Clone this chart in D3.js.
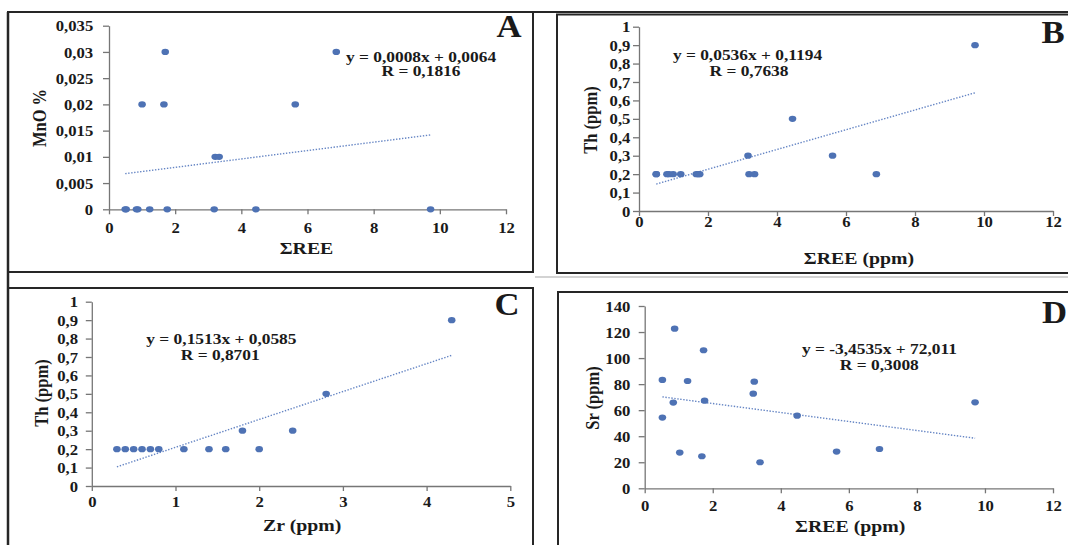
<!DOCTYPE html>
<html>
<head>
<meta charset="utf-8">
<script src="https://cdn.jsdelivr.net/npm/d3@7"></script>
<style>
body { margin: 0; background: #fff; }
</style>
</head>
<body>
<div class="vis"></div>
<script>
// A : MnO % against sum of REE
const reeA = [0.49, 0.52, 0.83, 0.87, 1.23, 1.76, 3.18, 4.44, 9.72, 3.21, 3.33, 1.0, 1.66, 5.63, 1.7, 6.87]
const mnoA = [0, 0, 0, 0, 0, 0, 0, 0, 0, 0.01, 0.01, 0.02, 0.02, 0.02, 0.03, 0.03]
const xTicksA = [0, 2, 4, 6, 8, 10, 12]
const yTicksA = [0, 0.005, 0.01, 0.015, 0.02, 0.025, 0.03, 0.035]
const fitA = [0.0008, 0.0064]
const eqA = ["y = 0,0008x + 0,0064", "R = 0,1816"]

// B : Th against sum of REE
const reeB = [0.5, 0.5, 0.81, 0.87, 0.99, 1.21, 1.66, 1.72, 1.76, 3.19, 3.35, 6.88, 3.16, 5.61, 4.45, 9.74]
const thB = [0.2, 0.2, 0.2, 0.2, 0.2, 0.2, 0.2, 0.2, 0.2, 0.2, 0.2, 0.2, 0.3, 0.3, 0.5, 0.9]
const xTicksB = [0, 2, 4, 6, 8, 10, 12]
const yTicksB = [0, 0.1, 0.2, 0.3, 0.4, 0.5, 0.6, 0.7, 0.8, 0.9, 1]
const fitB = [0.0536, 0.1194]
const eqB = ["y = 0,0536x + 0,1194", "R = 0,7638"]

// C : Th against Zr
const zrC = [0.3, 0.4, 0.5, 0.6, 0.7, 0.8, 1.1, 1.4, 1.6, 2.0, 1.8, 2.4, 2.8, 4.3]
const thC = [0.2, 0.2, 0.2, 0.2, 0.2, 0.2, 0.2, 0.2, 0.2, 0.2, 0.3, 0.3, 0.5, 0.9]
const xTicksC = [0, 1, 2, 3, 4, 5]
const yTicksC = [0, 0.1, 0.2, 0.3, 0.4, 0.5, 0.6, 0.7, 0.8, 0.9, 1]
const fitC = [0.1513, 0.0585]
const eqC = ["y = 0,1513x + 0,0585", "R = 0,8701"]

// D : Sr against sum of REE
const reeD = [0.52, 0.52, 0.88, 0.84, 1.03, 1.26, 1.68, 1.73, 1.76, 3.19, 3.22, 3.39, 4.48, 5.64, 6.9, 9.71]
const srD = [83.2, 54.3, 122.6, 65.8, 27.4, 82.4, 24.6, 106, 67.3, 72.7, 81.9, 20, 55.8, 28.2, 30.2, 66]
const xTicksD = [0, 2, 4, 6, 8, 10, 12]
const yTicksD = [0, 20, 40, 60, 80, 100, 120, 140]
const fitD = [-3.4535, 72.011]
const eqD = ["y = -3,4535x + 72,011", "R = 0,3008"]

const W = 1068, H = 545
const FONT = '"Liberation Serif", "Times New Roman", "DejaVu Serif", serif'
const svg = d3.select(".vis").append("svg").attr("width", W).attr("height", H)

const comma = d => String(d).replace(".", ",")

const label = (g, x, y, txt, size, anchor, sx, rot) => g.append("text")
    .attr("transform", `translate(${x},${y})` + (rot ? ` rotate(-90) scale(1,${sx})` : ` scale(${sx},1)`))
    .attr("text-anchor", anchor)
    .attr("dy", "0.35em")
    .style("font-size", `${size}px`)
    .text(txt)

// frame and panel boxes
const frame = svg.append("g").attr("fill", "none").attr("stroke", "#262626")
frame.append("line").attr("x1", 8).attr("x2", W).attr("y1", 12).attr("y2", 12).attr("stroke-width", 2)
frame.append("line").attr("x1", 8).attr("x2", 8).attr("y1", 12).attr("y2", H).attr("stroke-width", 2.5)
frame.append("line").attr("x1", 535).attr("x2", W).attr("y1", 277).attr("y2", 277).attr("stroke", "#c4c4c4").attr("stroke-width", 1.5)
const boxes = [[8, 12, 533, 272], [557, 14.5, 1090, 273], [8, 288, 533, 570], [558, 292, 1090, 570]]
boxes.forEach(b => frame.append("rect")
    .attr("x", b[0]).attr("y", b[1]).attr("width", b[2] - b[0]).attr("height", b[3] - b[1])
    .attr("stroke-width", 2))

const drawPanel = p => {
    const g = svg.append("g")
    const x = d3.scaleLinear().domain(p.xDomain).range(p.xRange)
    const y = d3.scaleLinear().domain(p.yDomain).range(p.yRange)

    const gx = g.append("g")
        .attr("transform", `translate(0,${p.yRange[0]})`)
        .call(d3.axisBottom(x).tickValues(p.xTicks).tickFormat(comma).tickSize(5).tickSizeOuter(0))
    gx.selectAll("text").attr("y", p.xPad).attr("dy", "0.35em")
        .attr("transform", "scale(1.15,1)").style("font-size", "14.5px")

    const gy = g.append("g")
        .attr("transform", `translate(${p.xRange[0]},0)`)
        .call(d3.axisLeft(y).tickValues(p.yTicks).tickFormat(comma).tickSize(6).tickSizeOuter(0))
    gy.selectAll("text").attr("x", -p.yPad / 1.15).attr("dy", "0.35em")
        .attr("transform", "scale(1.15,1)").style("font-size", "14.5px")

    g.selectAll(".domain, .tick line").attr("stroke", "#767676").attr("stroke-width", 1.3)
    g.selectAll(".tick text").attr("fill", "#1a1a1a")

    // regression line over the data range
    const ext = d3.extent(p.xs)
    const line = d3.line().x(d => x(d)).y(d => y(p.fit[0] * d + p.fit[1]))
    g.append("path")
        .datum(ext)
        .attr("d", line)
        .attr("fill", "none")
        .attr("stroke", "#6585c4")
        .attr("stroke-width", 1.4)
        .attr("stroke-dasharray", "1.4,1.6")

    g.selectAll("ellipse.pt")
        .data(p.xs.map((v, i) => [v, p.ys[i]]))
        .join("ellipse")
        .attr("class", "pt")
        .attr("cx", d => x(d[0]))
        .attr("cy", d => y(d[1]))
        .attr("rx", 3.8)
        .attr("ry", 3.1)
        .attr("fill", "#4e72b4")

    label(g, p.eqPos[0], p.eqPos[1], p.eq[0], 14.5, "middle", 1.2)
    label(g, p.eqPos[2], p.eqPos[3], p.eq[1], 14.5, "middle", 1.2)
    label(g, p.xTitlePos[0], p.xTitlePos[1], p.xTitle, 16.5, "middle", 1.2)
    label(g, p.yTitlePos[0], p.yTitlePos[1], p.yTitle, 16.5, "middle", 1.2, true)

    g.append("text")
        .attr("transform", `translate(${p.letterPos[0]},${p.letterPos[1]}) scale(1.12,1)`)
        .attr("text-anchor", p.letterAnchor)
        .style("font-size", "31px")
        .text(p.letter)
}

drawPanel({
    xs: reeA, ys: mnoA, xTicks: xTicksA, yTicks: yTicksA, fit: fitA, eq: eqA,
    xDomain: [0, 12], yDomain: [0, 0.035], xRange: [109, 506], yRange: [209.3, 25.7],
    xPad: 18.4, yPad: 15.8,
    eqPos: [421, 56.7, 421, 71], xTitle: "ΣREE", xTitlePos: [306.5, 248.3],
    yTitle: "MnO %", yTitlePos: [39.4, 118], letter: "A", letterPos: [509, 37], letterAnchor: "middle"
})

drawPanel({
    xs: reeB, ys: thB, xTicks: xTicksB, yTicks: yTicksB, fit: fitB, eq: eqB,
    xDomain: [0, 12], yDomain: [0, 1], xRange: [639, 1053], yRange: [211, 26.7],
    xPad: 11.3, yPad: 8.6,
    eqPos: [747.5, 55, 749, 71], xTitle: "ΣREE (ppm)", xTitlePos: [859, 258.3],
    yTitle: "Th (ppm)", yTitlePos: [590, 120], letter: "B", letterPos: [1041.5, 42.5], letterAnchor: "start"
})

drawPanel({
    xs: zrC, ys: thC, xTicks: xTicksC, yTicks: yTicksC, fit: fitC, eq: eqC,
    xDomain: [0, 5], yDomain: [0, 1], xRange: [91.8, 510.3], yRange: [486, 301.7],
    xPad: 16.3, yPad: 13.8,
    eqPos: [221.4, 339, 220.2, 355], xTitle: "Zr (ppm)", xTitlePos: [302.2, 525],
    yTitle: "Th (ppm)", yTitlePos: [41, 393], letter: "C", letterPos: [507, 315], letterAnchor: "middle"
})

drawPanel({
    xs: reeD, ys: srD, xTicks: xTicksD, yTicks: yTicksD, fit: fitD, eq: eqD,
    xDomain: [0, 12], yDomain: [0, 140], xRange: [644.7, 1053], yRange: [488.3, 306],
    xPad: 17.3, yPad: 14.4,
    eqPos: [879.4, 349, 879.3, 365], xTitle: "ΣREE (ppm)", xTitlePos: [850.2, 526.7],
    yTitle: "Sr (ppm)", yTitlePos: [591.6, 398], letter: "D", letterPos: [1042, 323], letterAnchor: "start"
})

// one font for every label, set inline so the axis defaults do not win
svg.selectAll("text")
    .style("font-family", FONT)
    .style("font-weight", "bold")
    .style("fill", "#1a1a1a")
</script>
</body>
</html>
